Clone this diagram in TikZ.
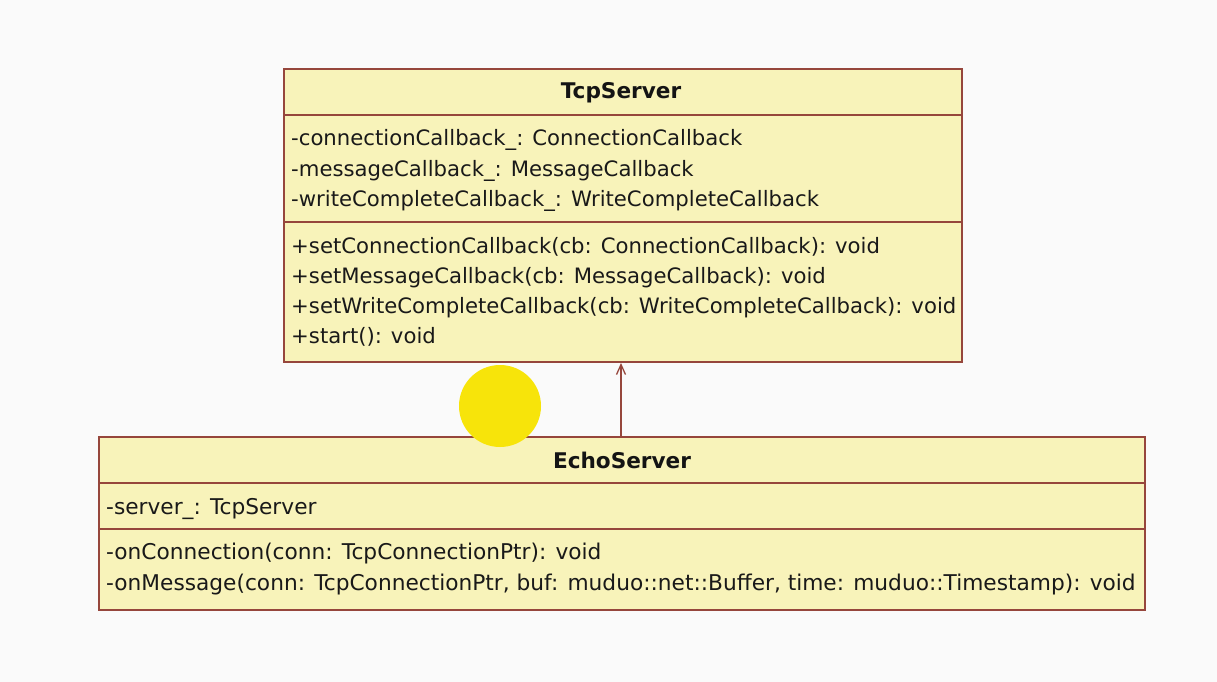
\documentclass[tikz,border=0pt]{standalone}
\usepackage{fontspec}
\setmainfont{DejaVu Sans}
\usetikzlibrary{arrows.meta}
\definecolor{bgc}{RGB}{250,250,250}
\definecolor{umlfill}{RGB}{248,243,186}
\definecolor{umlline}{RGB}{150,70,60}
\definecolor{hilite}{RGB}{247,228,10}
\tikzset{
  x=1pt,y=-1pt,
  classbox/.style={draw=umlline,fill=umlfill,line width=2pt,inner sep=0pt,rectangle},
  sepline/.style={draw=umlline,line width=2pt},
  member/.style={anchor=base west,inner sep=0pt,font=\fontsize{21.2}{26}\selectfont,text=black!90},
  wmember/.style={member,font=\fontsize{21.7}{26}\selectfont},
  ctitle/.style={anchor=base,inner sep=0pt,font=\fontsize{21.6}{26}\selectfont\bfseries,text=black!92},
  assoc/.style={draw=umlline,line width=1.3pt,-{Straight Barb[length=10pt,width=9pt]}},
}
\begin{document}
\begin{tikzpicture}
\fill[bgc] (0,0) rectangle (1217,682);
\useasboundingbox (0,0) rectangle (1217,682);
% TcpServer
\node[classbox,minimum width=678pt,minimum height=293pt] (tcp) at (623,215.5) {};
\draw[sepline] (284,115) -- (962,115);
\draw[sepline] (284,222) -- (962,222);
\node[ctitle] (tcpt) at (621,99) {TcpServer};
\node[member] (ta1) at (291,146) {-connectionCallback\_: ConnectionCallback};
\node[member] (ta2) at (291,176) {-messageCallback\_: MessageCallback};
\node[member] (ta3) at (291,206) {-writeCompleteCallback\_: WriteCompleteCallback};
\node[member] (tm1) at (291,253) {+setConnectionCallback(cb: ConnectionCallback): void};
\node[member] (tm2) at (291,283) {+setMessageCallback(cb: MessageCallback): void};
\node[member] (tm3) at (291,313) {+setWriteCompleteCallback(cb: WriteCompleteCallback): void};
\node[member] (tm4) at (291,343) {+start(): void};
% EchoServer
\node[classbox,minimum width=1046pt,minimum height=173pt] (echo) at (621.5,523.5) {};
\draw[sepline] (98.5,483) -- (1144.5,483);
\draw[sepline] (98.5,529) -- (1144.5,529);
\node[ctitle] (echot) at (622,468) {EchoServer};
\node[wmember] (ea1) at (106,514) {-server\_: TcpServer};
\node[wmember] (em1) at (106,559) {-onConnection(conn: TcpConnectionPtr): void};
\node[wmember] (em2) at (106,590) {-onMessage(conn: TcpConnectionPtr, buf: muduo::net::Buffer, time: muduo::Timestamp): void};
% association
\draw[assoc] ([xshift=-2pt]tcp.south |- echo.north) -- ([xshift=-2pt]tcp.south);
% cursor highlight
\fill[hilite] (500,406) circle (41);
\end{tikzpicture}
\end{document}
